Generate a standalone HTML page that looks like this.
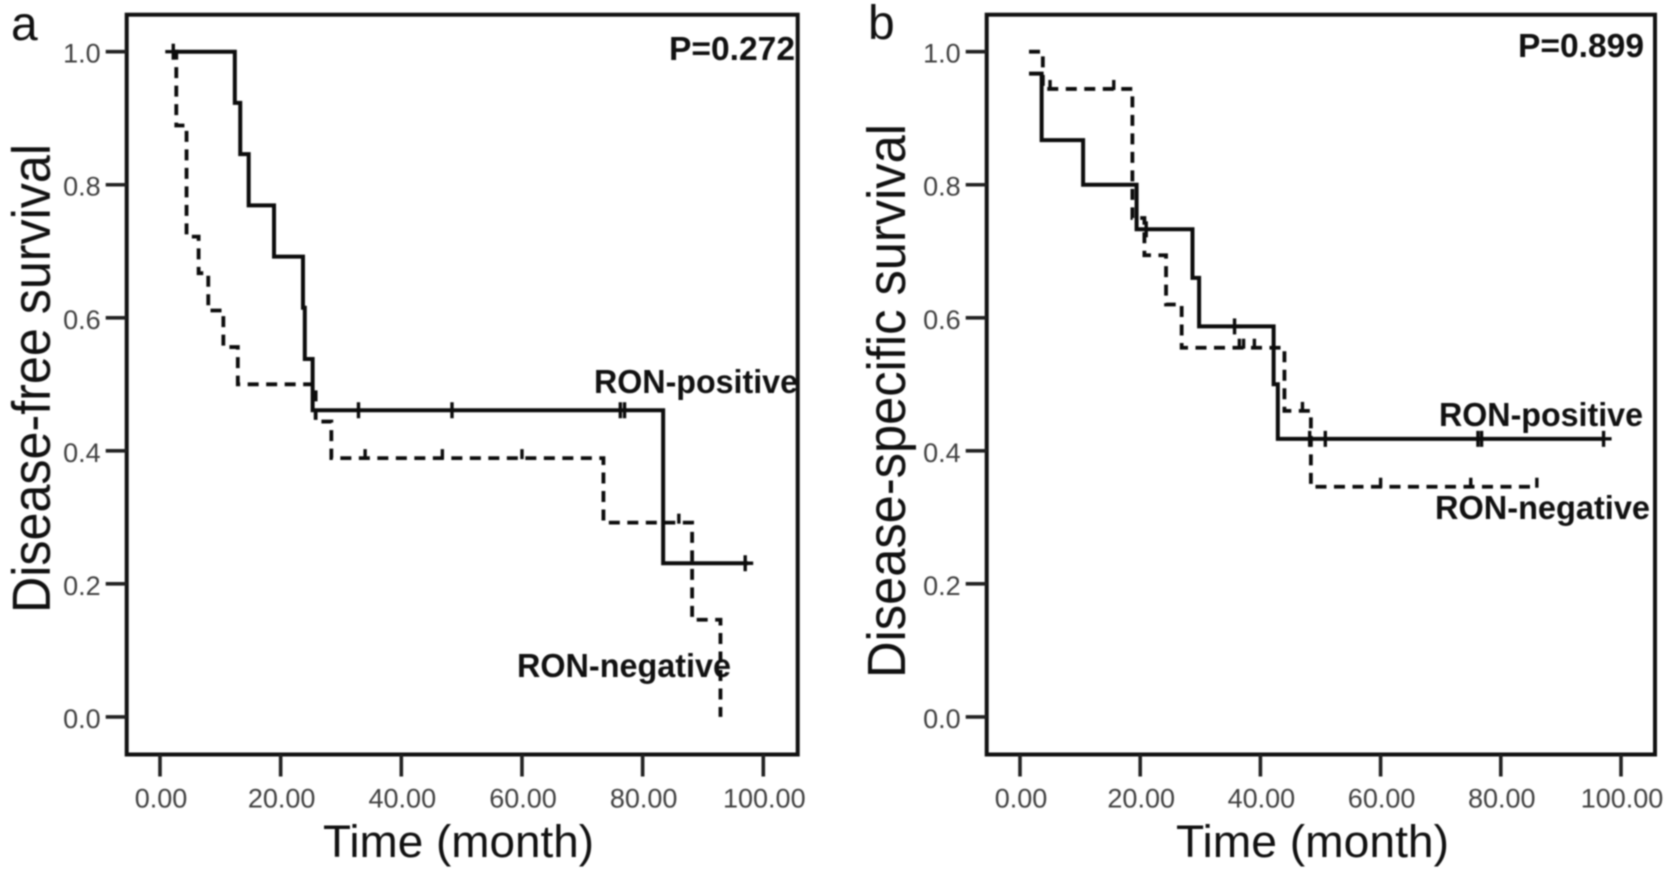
<!DOCTYPE html>
<html lang="en">
<head>
<meta charset="utf-8">
<title>Kaplan-Meier survival curves by RON status</title>
<style>
  html, body { margin: 0; padding: 0; background: #fff; }
  #figure { display: block; width: 1677px; height: 876px; background: #fff; }
  #figure text { font-family: "Liberation Sans", sans-serif; }
  .soft { filter: blur(0.8px); }
  .tick-label { fill: #404040; font-size: 27px; }
  .axis-title { fill: #111; font-size: 45px; }
  .side-title { fill: #111; font-size: 50px; }
  .bold-label { fill: #111; font-weight: bold; font-size: 33px; }
  .panel-letter { fill: #111; font-size: 48px; }
</style>
</head>
<body>
<svg id="figure" xmlns="http://www.w3.org/2000/svg" width="1677" height="876" viewBox="0 0 1677 876">
  <g id="root" class="soft">
    <text class="panel-letter" x="11" y="40">a</text>
    <text class="panel-letter" x="868" y="39">b</text>

    <text class="side-title" transform="translate(50,613) rotate(-90) scale(1,1.08)" textLength="469" lengthAdjust="spacingAndGlyphs">Disease-free survival</text>
    <text class="side-title" transform="translate(905,678) rotate(-90) scale(1,1.08)" textLength="554" lengthAdjust="spacingAndGlyphs">Disease-specific survival</text>

    <text class="axis-title" x="323" y="857" textLength="271" lengthAdjust="spacingAndGlyphs">Time (month)</text>
    <text class="axis-title" x="1176" y="857" textLength="273" lengthAdjust="spacingAndGlyphs">Time (month)</text>

    <text class="bold-label" x="669" y="60" textLength="126" lengthAdjust="spacingAndGlyphs">P=0.272</text>
    <text class="bold-label" x="1518" y="57" textLength="126" lengthAdjust="spacingAndGlyphs">P=0.899</text>
    <text class="bold-label" x="594" y="393" textLength="204" lengthAdjust="spacingAndGlyphs">RON-positive</text>
    <text class="bold-label" x="517" y="677" textLength="214" lengthAdjust="spacingAndGlyphs">RON-negative</text>
    <text class="bold-label" x="1439" y="426" textLength="204" lengthAdjust="spacingAndGlyphs">RON-positive</text>
    <text class="bold-label" x="1435" y="519" textLength="215" lengthAdjust="spacingAndGlyphs">RON-negative</text>
  </g>
</svg>
<script>
// Axis tick values and printed labels
var xTickValues = [0, 20, 40, 60, 80, 100];
var xTickLabels = ['0.00', '20.00', '40.00', '60.00', '80.00', '100.00'];
var yTickValues = [0, 0.2, 0.4, 0.6, 0.8, 1];
var yTickLabels = ['0.0', '0.2', '0.4', '0.6', '0.8', '1.0'];

// Panel a: RON-positive (solid)
var aPosTimes = [2.2, 12.4, 13.3, 14.7, 18.9, 23.7, 24.0, 25.3, 83.4, 97.5];
var aPosSurvival = [1, 0.923, 0.846, 0.769, 0.692, 0.615, 0.538, 0.461, 0.231, 0.231];
var aPosCensored = [2.2, 32.9, 48.4, 76.3, 77, 97];

// Panel a: RON-negative (dashed)
var aNegTimes = [2.2, 2.7, 4.4, 6.4, 8.0, 10.5, 12.9, 25.8, 28.4, 73.5, 88.2, 92.9, 92.9];
var aNegSurvival = [1, 0.889, 0.722, 0.667, 0.611, 0.556, 0.5, 0.444, 0.389, 0.292, 0.146, 0, 0];
var aNegCensored = [34, 46.8, 60, 86];

// Panel b: RON-positive (solid)
var bPosTimes = [1.5, 3.6, 10.5, 19.4, 28.7, 29.8, 42.2, 42.9, 97.1];
var bPosSurvival = [0.967, 0.867, 0.8, 0.733, 0.66, 0.587, 0.5, 0.418, 0.418];
var bPosCensored = [21, 35.7, 48.2, 50.8, 76.2, 76.8, 97.1];

// Panel b: RON-negative (dashed)
var bNegTimes = [1.5, 3.8, 18.7, 20.7, 24.3, 26.9, 44, 48.4, 86];
var bNegSurvival = [1, 0.944, 0.75, 0.694, 0.62, 0.555, 0.46, 0.346, 0.346];
var bNegCensored = [5, 15.6, 36.5, 37.2, 39, 47, 60, 75, 86];

var SVG_NS = 'http://www.w3.org/2000/svg';
var root = document.getElementById('root');

function node(tag, parent) {
  var el = document.createElementNS(SVG_NS, tag);
  parent.appendChild(el);
  return el;
}

function survivalAt(times, survival, t) {
  var value = survival[0];
  for (var i = 0; i < times.length; i++) {
    if (times[i] <= t) { value = survival[i]; }
  }
  return value;
}

function stepPath(times, survival, xScale, yScale) {
  var d = 'M' + xScale(times[0]) + ' ' + yScale(survival[0]);
  for (var i = 1; i < times.length; i++) {
    d += ' H' + xScale(times[i]) + ' V' + yScale(survival[i]);
  }
  return d;
}

function drawSeries(parent, prefix, times, survival, censored, xScale, yScale, dashed) {
  var line = node('path', parent);
  
  
  line.setAttribute('d', stepPath(times, survival, xScale, yScale));
  line.setAttribute('fill', 'none');
  line.setAttribute('stroke', '#0c0c0c');
  line.setAttribute('stroke-width', dashed ? 3.8 : 4);
  line.setAttribute('stroke-linejoin', 'miter');
  if (dashed) { line.setAttribute('stroke-dasharray', '11 7.5'); }

  censored.forEach(function (t) {
    var cx = xScale(t);
    var cy = yScale(survivalAt(times, survival, t));
    var mark = node('line', parent);
    
    
    mark.setAttribute('x1', cx);
    mark.setAttribute('x2', cx);
    mark.setAttribute('y1', cy - (dashed ? 9 : 8));
    mark.setAttribute('y2', cy + (dashed ? 1 : 8));
    mark.setAttribute('stroke', '#0c0c0c');
    mark.setAttribute('stroke-width', 3.4);
    if (!dashed) {
      var bar = node('line', parent);
      
      
      bar.setAttribute('x1', cx - 8);
      bar.setAttribute('x2', cx + 8);
      bar.setAttribute('y1', cy);
      bar.setAttribute('y2', cy);
      bar.setAttribute('stroke', '#0c0c0c');
      bar.setAttribute('stroke-width', 3.4);
    }
  });
}

function drawPanel(prefix, frame, series) {
  var xScale = function (t) { return frame.x0 + (frame.x100 - frame.x0) * t / 100; };
  var yScale = function (v) { return frame.y0 + (frame.y1 - frame.y0) * v; };

  var g = node('g', root);
  
  

  var box = node('rect', g);
  
  
  box.setAttribute('x', frame.left);
  box.setAttribute('y', frame.top);
  box.setAttribute('width', frame.right - frame.left);
  box.setAttribute('height', frame.bottom - frame.top);
  box.setAttribute('fill', 'none');
  box.setAttribute('stroke', '#111');
  box.setAttribute('stroke-width', 4);

  xTickValues.forEach(function (value, i) {
    var tick = node('line', g);
    
    
    tick.setAttribute('x1', xScale(value));
    tick.setAttribute('x2', xScale(value));
    tick.setAttribute('y1', frame.bottom);
    tick.setAttribute('y2', frame.bottom + 22);
    tick.setAttribute('stroke', '#222');
    tick.setAttribute('stroke-width', 3.6);

    var label = node('text', g);
    
    
    label.setAttribute('class', 'tick-label');
    label.setAttribute('x', xScale(value) + 1);
    label.setAttribute('y', frame.bottom + 53);
    label.setAttribute('text-anchor', 'middle');
    label.textContent = xTickLabels[i];
  });

  yTickValues.forEach(function (value, i) {
    var tick = node('line', g);
    
    
    tick.setAttribute('x1', frame.left - 21);
    tick.setAttribute('x2', frame.left);
    tick.setAttribute('y1', yScale(value));
    tick.setAttribute('y2', yScale(value));
    tick.setAttribute('stroke', '#222');
    tick.setAttribute('stroke-width', 3.6);

    var label = node('text', g);
    
    
    label.setAttribute('class', 'tick-label');
    label.setAttribute('x', frame.left - 26);
    label.setAttribute('y', yScale(value) + 11);
    label.setAttribute('text-anchor', 'end');
    label.textContent = yTickLabels[i];
  });

  drawSeries(g, prefix + '-ron-negative', series.negTimes, series.negSurvival, series.negCensored, xScale, yScale, true);
  drawSeries(g, prefix + '-ron-positive', series.posTimes, series.posSurvival, series.posCensored, xScale, yScale, false);
}

drawPanel('panel-a',
  { left: 126.7, right: 797.7, top: 14.7, bottom: 754.5, x0: 160, x100: 763.3, y0: 716.9, y1: 51.7 },
  { posTimes: aPosTimes, posSurvival: aPosSurvival, posCensored: aPosCensored,
    negTimes: aNegTimes, negSurvival: aNegSurvival, negCensored: aNegCensored });

drawPanel('panel-b',
  { left: 986.7, right: 1655, top: 14.7, bottom: 754.5, x0: 1020, x100: 1621, y0: 716.9, y1: 51.7 },
  { posTimes: bPosTimes, posSurvival: bPosSurvival, posCensored: bPosCensored,
    negTimes: bNegTimes, negSurvival: bNegSurvival, negCensored: bNegCensored });
</script>
</body>
</html>
